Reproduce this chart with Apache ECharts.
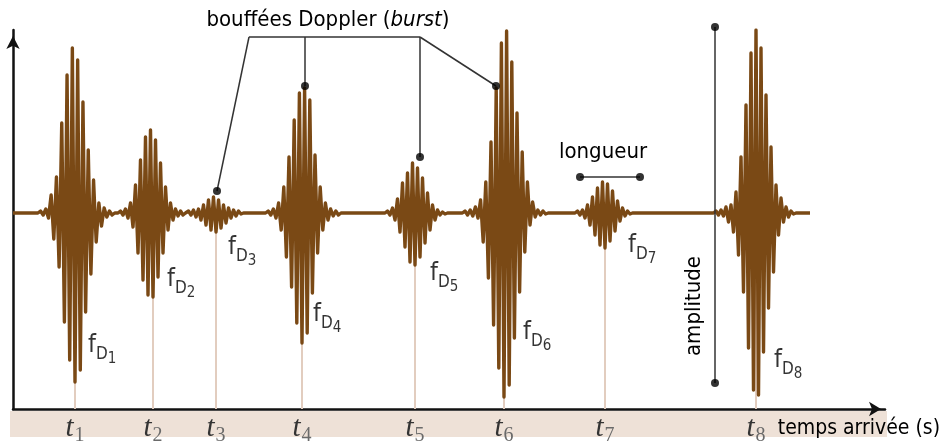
<!DOCTYPE html>
<html><head><meta charset="utf-8">
<script src="https://cdn.jsdelivr.net/npm/echarts@6/dist/echarts.min.js"></script>
<style>html,body{margin:0;padding:0;background:#fff}#c{width:943px;height:446px}</style>
</head><body><div id="c"></div>
<script>
// ---- data (x in time units, y in amplitude units) ----
const arrivalTimes = [62, 140, 203, 289, 402, 491, 592, 743];
const timeIndexLabels = ['1', '2', '3', '4', '5', '6', '7', '8'];
const halfPeriods = [2.65, 2.5, 2.5, 2.6, 2.5, 2.6, 2.5, 2.5];
// successive extrema (alternating sign) of each burst
const burst1 = [2,-2,4,-5,18,-26,36,-54,90,-109,138,-147,165,-169,153,-157,111,-99,63,-61,33,-29,10,-13,5,-4,2,-2];
const burst2 = [2,-2,4,-5,10,-14,28,-40,53,-67,76,-82,83,-84,73,-64,50,-40,26,-17,10,-7,4,-3,2,-2];
const burst3 = [2,-2,3,-4,4,-7,8,-12,13,-17,16,-19,13,-15,8,-10,5,-5,3,-3,2,-1];
const burst4 = [2,-2,4,-5,10,-17,26,-44,56,-74,93,-110,120,-130,125,-120,113,-80,58,-40,26,-17,10,-7,4,-3,2,-2];
const burst5 = [2,-2,5,-7,14,-19,30,-34,40,-49,50,-52,45,-44,35,-30,20,-17,8,-7,3,-2,1,-1];
const burst6 = [2,-2,3,-3,6,-5,13,-29,31,-65,71,-112,125,-155,170,-184,182,-172,151,-125,100,-79,61,-39,31,-12,11,-4,3,-2,2,-1];
const burst7 = [2,-2,3,-5,8,-12,16,-22,25,-32,31,-35,29,-28,22,-18,12,-8,5,-3,2,-1];
const burst8 = [2,-2,3,-3,6,-9,8,-19,21,-42,56,-79,108,-135,160,-177,183,-182,165,-139,118,-95,66,-59,28,-22,15,-9,6,-4,2,-1];
const signalStart = 0, signalEnd = 797;
const yMin = -196, yMax = 183, xMin = 0, xMax = 872;

// annotation anchors
const fdLabelX = [75, 154, 215, 300, 417, 510, 615, 761];
const fdLabelY = [-132, -66, -34, -101, -60, -119, -32, -147];
const calloutSegments = [
  [[236,176],[407,176]], [[236,176],[204,22]], [[292,176],[292,127]],
  [[407,176],[407,56]], [[407,176],[483,127]],
  [[567,36],[627,36]], [[702,186],[702,-170]]
];
const calloutDots = [[204,22],[292,127],[407,56],[483,127],[567,36],[627,36],[702,186],[702,-170]];

// ---- build ----
const bursts = [burst1,burst2,burst3,burst4,burst5,burst6,burst7,burst8];
const signal = [[signalStart, 0]];
bursts.forEach((b, i) => {
  let k = 0, m = 0;
  b.forEach((v, j) => { if (Math.abs(v) > m) { m = Math.abs(v); k = j; } });
  const h = halfPeriods[i];
  const x0 = arrivalTimes[i] - k * h;
  signal.push([x0 - h, 0]);
  b.forEach((v, j) => signal.push([x0 + j * h, v]));
  signal.push([x0 + b.length * h, 0]);
});
signal.push([signalEnd, 0]);

const SANS = '"Liberation Sans Narrow","DejaVu Sans Condensed","Liberation Sans",Arial,sans-serif';
const SERIF = '"Liberation Serif","DejaVu Serif",serif';
const BROWN = '#7a4915';

const chart = echarts.init(document.getElementById('c'), null, {renderer: 'canvas'});
chart.setOption({
  animation: false,
  backgroundColor: '#fff',
  grid: {left: 13, right: 58, top: 30, bottom: 37},
  xAxis: {
    type: 'value', min: xMin, max: xMax,
    axisLine: {onZero: false, symbol: ['none', 'arrow'], symbolSize: [11, 12], symbolOffset: [0, -4],
      lineStyle: {color: '#111', width: 2.5}},
    axisTick: {show: false}, splitLine: {show: false},
    axisLabel: {
      customValues: arrivalTimes, margin: 2,
      formatter: v => '{t|t}{n|' + timeIndexLabels[arrivalTimes.indexOf(v)] + '}',
      rich: {
        t: {fontFamily: SERIF, fontStyle: 'italic', fontSize: 29, color: '#333'},
        n: {fontFamily: SERIF, fontSize: 20, color: '#6a6a6a', padding: [15, 0, 0, 1]}
      }
    }
  },
  yAxis: {
    type: 'value', min: yMin, max: yMax,
    axisLine: {show: true, symbol: ['none', 'arrow'], symbolSize: [10, 13], symbolOffset: [0, -6],
      lineStyle: {color: '#111', width: 2.5}},
    axisTick: {show: false}, axisLabel: {show: false}, splitLine: {show: false}
  },
  graphic: [
    {type: 'rect', z: -10, shape: {x: 10, y: 411, width: 877, height: 26}, style: {fill: '#eee1d7'}},
    {type: 'text', style: {x: 328, y: 20, align: 'center', verticalAlign: 'middle',
      text: '{a|bouffées Doppler (}{b|burst}{a|)}',
      rich: {a: {fontFamily: SANS, fontSize: 22, fill: '#000'}, b: {fontFamily: SANS, fontSize: 22, fontStyle: 'italic', fill: '#000'}}}},
    {type: 'text', style: {x: 603, y: 152, align: 'center', verticalAlign: 'middle', text: 'longueur',
      font: '22px ' + SANS, fill: '#000'}},
    {type: 'text', x: 694, y: 306, rotation: Math.PI / 2, style: {x: 0, y: 0, align: 'center', verticalAlign: 'middle', text: 'amplitude',
      font: '22px ' + SANS, fill: '#000'}},
    {type: 'text', style: {x: 940, y: 429, align: 'right', verticalAlign: 'middle', text: 'temps arrivée (s)',
      font: '21px ' + SANS, fill: '#000'}}
  ],
  series: [
    {type: 'lines', coordinateSystem: 'cartesian2d', silent: true, z: 1,
      data: arrivalTimes.map(t => ({coords: [[t, 0], [t, yMin]]})),
      lineStyle: {color: '#e2cdbf', width: 2, opacity: 1}},
    {type: 'line', data: signal, symbol: 'none', z: 3, silent: true,
      lineStyle: {color: BROWN, width: 3.4, join: 'round'}},
    {type: 'lines', coordinateSystem: 'cartesian2d', silent: true, z: 4, clip: false,
      data: calloutSegments.map(s => ({coords: s})),
      lineStyle: {color: '#333', width: 1.5, opacity: 1}},
    {type: 'scatter', data: calloutDots, symbolSize: 8, z: 5, clip: false, silent: true,
      itemStyle: {color: '#000'}},
    {type: 'scatter', data: fdLabelX.map((x, i) => [x, fdLabelY[i], i + 1]), symbolSize: 0, z: 6, silent: true,
      label: {show: true, position: 'right', distance: 0,
        formatter: p => '{f|f}{d|D}{n|' + p.data[2] + '}',
        rich: {
          f: {fontFamily: SANS, fontSize: 25, color: '#000'},
          d: {fontFamily: SANS, fontSize: 17, color: '#000', padding: [20, 0, 0, 0]},
          n: {fontFamily: SANS, fontSize: 15, color: '#000', padding: [28, 0, 0, 0]}
        }}}
  ]
});
</script></body></html>
